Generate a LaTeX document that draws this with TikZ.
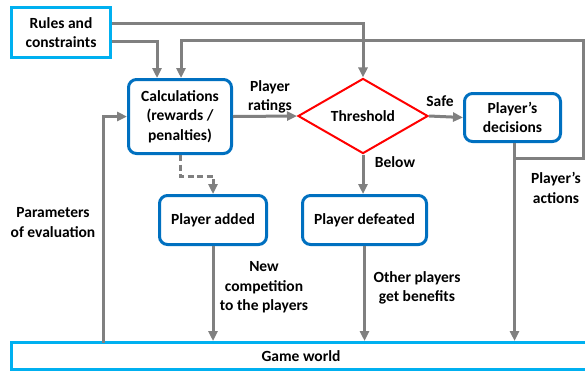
\documentclass[tikz,border=0pt]{standalone}
\usepackage{fontspec}
\setmainfont{Carlito}
\usetikzlibrary{arrows.meta,shapes.geometric,calc}
\definecolor{skyline}{HTML}{00B0F0}
\definecolor{boxblue}{HTML}{0070C0}
\definecolor{flowgray}{HTML}{808080}
\tikzset{
	every node/.style={font=\fontsize{15.5}{19.5}\selectfont\bfseries, align=center},
	outerbox/.style={draw=skyline, line width=3pt, inner sep=0pt},
	stepbox/.style={draw=boxblue, line width=3pt, rounded corners=8pt, inner sep=0pt},
	testbox/.style={draw=red, line width=2pt, diamond, inner sep=0pt},
	flow/.style={draw=flowgray, line width=3pt, -{Triangle[length=10pt,width=9pt]}},
}

\begin{document}
\begin{tikzpicture}[x=1pt, y=-1pt]
			%%%%% START %%%%%
			\useasboundingbox (0, 0) rectangle (585, 373);
			
			\node[outerbox, minimum width=99, minimum height=50] (rules) at (61, 32.5) {Rules and\\constraints};
			\node[stepbox, minimum width=103, minimum height=74] (calc) at (180, 116.5) {Calculations\\(rewards /\\penalties)};
			\node[testbox, minimum width=130, minimum height=66] (thr) at (363, 116) {Threshold};
			\node[stepbox, minimum width=96, minimum height=48] (dec) at (512.5, 117.5) {Player's\\decisions};
			\node[stepbox, minimum width=107, minimum height=49] (added) at (213, 220) {Player added};
			\node[stepbox, minimum width=124, minimum height=49] (defeat) at (364.5, 220) {Player defeated};
			\node[outerbox, minimum width=579, minimum height=27] (world) at (301, 356) {Game world};
			
			\coordinate (edge) at (583, 158);
			\coordinate (edgetop) at (583, 40);
			\coordinate (param) at (103, 342.5);
			
			\draw[flow] ([yshift=9.5pt]rules.east) -| (thr.north);
			\draw[flow] ([yshift=-8.5pt]rules.east) -| ([xshift=-23pt]calc.north);
			\draw[flow] ([xshift=2pt]dec.south) |- (edge) -- (edgetop) -| ([xshift=1pt]calc.north);
			\draw[flow] ([xshift=2pt]dec.south) -- ([xshift=2pt]dec.south |- world.north);
			
			\draw[flow] (calc.east) -- (thr.west);
			\draw[flow] (thr.east) -- (dec.west);
			\draw[flow] (thr.south) -- (thr.south |- defeat.north);
			\draw[flow, dash pattern=on 6pt off 3.5pt] (calc.south) -- ++(0, 21) -| (added.north);
			\draw[flow] (added.south) -- (added.south |- world.north);
			\draw[flow] (defeat.south) -- (defeat.south |- world.north);
			\draw[flow] (param) |- (calc.west);
			
			\node (ratings) at (270, 97) {Player\\ratings};
			\node (safe) at (440, 101) {Safe};
			\node (below) at (395, 162) {Below};
			\node (newcomp) at (264, 287.5) {New\\competition\\to the players};
			\node (benefits) at (417, 288) {Other players\\get benefits};
			\node (actions) at (556, 188) {Player's\\actions};
			\node (params) at (53, 222.5) {Parameters\\of evaluation};
			%%%%% END %%%%%
		\end{tikzpicture}
\end{document}
